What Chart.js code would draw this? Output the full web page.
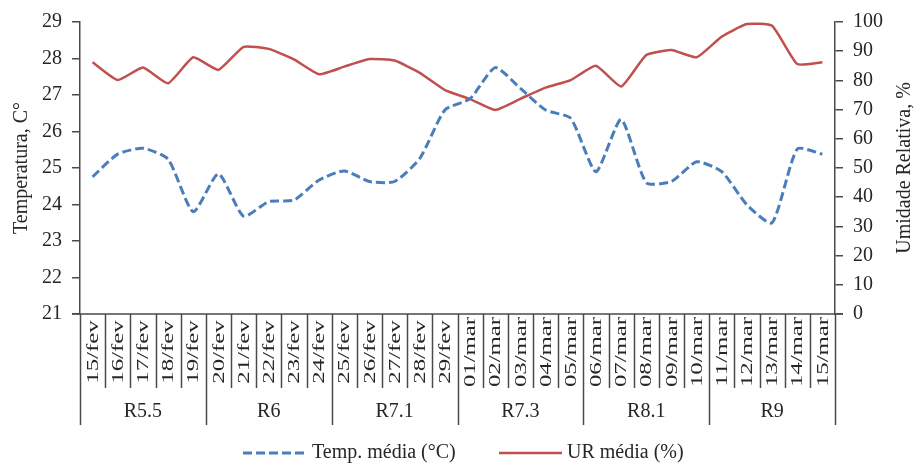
<!DOCTYPE html>
<html>
<head>
<meta charset="utf-8">
<script src="https://cdn.jsdelivr.net/npm/chart.js@4.4.1/dist/chart.umd.min.js"></script>
<style>
html,body{margin:0;padding:0;background:#fff;}
#wrap{width:915px;height:465px;position:relative;}
</style>
</head>
<body>
<div id="wrap"><canvas id="c" width="915" height="465"></canvas></div>
<script>
// ---- data ----
const categories = ['15/fev','16/fev','17/fev','18/fev','19/fev','20/fev','21/fev','22/fev','23/fev','24/fev','25/fev','26/fev','27/fev','28/fev','29/fev','01/mar','02/mar','03/mar','04/mar','05/mar','06/mar','07/mar','08/mar','09/mar','10/mar','11/mar','12/mar','13/mar','14/mar','15/mar'];
const groups = ['R5.5','R6','R7.1','R7.3','R8.1','R9'];
const groupSize = [5,5,5,5,5,5];
const tempMedia = [24.76,25.38,25.54,25.24,23.8,24.84,23.68,24.08,24.12,24.67,24.92,24.63,24.63,25.26,26.59,26.9,27.75,27.18,26.59,26.36,24.9,26.33,24.6,24.63,25.17,24.9,23.99,23.5,25.52,25.38];
const urMedia = [86.2,80.1,84.4,79,87.9,83.6,91.5,90.8,87.2,82.1,84.7,87.3,86.8,82.6,76.7,73.6,69.9,73.7,77.5,80.1,85.0,77.9,88.7,90.4,87.9,95,99.3,98.7,85.6,86.2];
const seriesNames = ['Temp. média (°C)','UR média (%)'];
const leftTitle = 'Temperatura, C°';
const rightTitle = 'Umidade Relativa, %';

const FONT = '"Liberation Serif", "Times New Roman", serif';
const TXT = '#262626';
const AX = '#4a4a4a';
const BLUE = '#4a7ebb';
const RED = '#c0504d';

const extras = {
  id: 'extras',
  afterDraw(chart) {
    const ctx = chart.ctx;
    const xs = chart.scales.x;
    const ca = chart.chartArea;
    const n = categories.length;
    const bottom = ca.bottom;
    ctx.save();
    // x axis line
    ctx.strokeStyle = AX;
    ctx.lineWidth = 1.5;
    ctx.beginPath();
    ctx.moveTo(ca.left - 8, bottom);
    ctx.lineTo(ca.right + 8, bottom);
    ctx.stroke();
    // boundaries
    const bounds = [];
    for (let i = 0; i <= n; i++) {
      let x;
      if (i === 0) x = ca.left;
      else if (i === n) x = ca.right;
      else x = (xs.getPixelForValue(i - 1) + xs.getPixelForValue(i)) / 2;
      bounds.push(x);
    }
    const groupEdges = new Set();
    let acc = 0;
    groupEdges.add(0);
    groupSize.forEach(s => { acc += s; groupEdges.add(acc); });
    bounds.forEach((x, i) => {
      const xx = Math.round(x) + 0.5;
      ctx.beginPath();
      ctx.moveTo(xx, bottom);
      ctx.lineTo(xx, groupEdges.has(i) ? bottom + 111 : bottom + 74);
      ctx.stroke();
    });
    // category labels (rotated)
    ctx.fillStyle = TXT;
    ctx.font = '16px ' + FONT;
    categories.forEach((lab, i) => {
      const x = xs.getPixelForValue(i);
      ctx.save();
      ctx.translate(x + 1, bottom + 38);
      ctx.rotate(-Math.PI / 2);
      ctx.scale(1.55, 1);
      ctx.textAlign = 'center';
      ctx.textBaseline = 'middle';
      ctx.fillText(lab, 0, 0);
      ctx.restore();
    });
    // group labels
    ctx.font = '20px ' + FONT;
    ctx.textAlign = 'center';
    ctx.textBaseline = 'middle';
    let start = 0;
    groups.forEach((g, k) => {
      const end = start + groupSize[k];
      const cx = (bounds[start] + bounds[end]) / 2;
      ctx.fillText(g, cx, bottom + 98);
      start = end;
    });
    // axis titles
    const cy = (ca.top + ca.bottom) / 2;
    ctx.save();
    ctx.translate(22, cy);
    ctx.rotate(-Math.PI / 2);
    ctx.fillText(leftTitle, 0, 0);
    ctx.restore();
    ctx.save();
    ctx.translate(905, cy);
    ctx.rotate(-Math.PI / 2);
    ctx.fillText(rightTitle, 0, 0);
    ctx.restore();
    // legend
    const ly = 453;
    ctx.lineWidth = 3;
    ctx.strokeStyle = BLUE;
    ctx.setLineDash([9, 4]);
    ctx.beginPath();
    ctx.moveTo(243, ly);
    ctx.lineTo(307, ly);
    ctx.stroke();
    ctx.setLineDash([]);
    ctx.strokeStyle = RED;
    ctx.lineWidth = 2.5;
    ctx.beginPath();
    ctx.moveTo(499, ly);
    ctx.lineTo(562, ly);
    ctx.stroke();
    ctx.textAlign = 'left';
    ctx.fillText(seriesNames[0], 312, ly);
    ctx.fillText(seriesNames[1], 567, ly);
    ctx.restore();
  }
};

const axisCommon = {
  grid: { drawOnChartArea: false, drawTicks: true, tickLength: 8, color: AX, lineWidth: 1.5 },
  border: { display: true, color: AX, width: 1.5 },
  ticks: { font: { family: FONT, size: 20 }, color: TXT, padding: 10 }
};

new Chart(document.getElementById('c'), {
  type: 'line',
  data: {
    labels: categories,
    datasets: [
      { label: seriesNames[0], data: tempMedia, yAxisID: 'y', borderColor: BLUE, borderWidth: 3, borderDash: [9, 4], pointRadius: 0, tension: 0.2, fill: false },
      { label: seriesNames[1], data: urMedia, yAxisID: 'y1', borderColor: RED, borderWidth: 2.5, pointRadius: 0, tension: 0.15, fill: false }
    ]
  },
  options: {
    responsive: false,
    animation: false,
    devicePixelRatio: 1,
    layout: { padding: { top: 22, bottom: 151, left: 0, right: 0 } },
    plugins: { legend: { display: false }, tooltip: { enabled: false } },
    scales: {
      x: { type: 'category', offset: true, display: false },
      y: Object.assign({}, axisCommon, {
        position: 'left', min: 21, max: 29,
        ticks: Object.assign({}, axisCommon.ticks, { stepSize: 1 }),
        afterFit(s) { s.width = 80; }
      }),
      y1: Object.assign({}, axisCommon, {
        position: 'right', min: 0, max: 100,
        ticks: Object.assign({}, axisCommon.ticks, { stepSize: 10 }),
        afterFit(s) { s.width = 80; }
      })
    }
  },
  plugins: [extras]
});
</script>
</body>
</html>
